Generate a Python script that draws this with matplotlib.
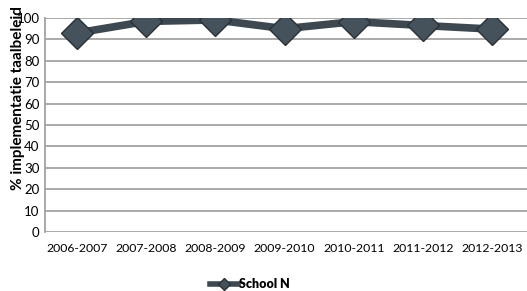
import matplotlib
matplotlib.use("Agg")
import matplotlib.pyplot as plt
from matplotlib.lines import Line2D

categories = ["2006-2007", "2007-2008", "2008-2009", "2009-2010", "2010-2011", "2011-2012", "2012-2013"]
values = [93, 98.4, 99.1, 95, 98.3, 96.5, 94.8]
series_name = "School N"
yticks = [0, 10, 20, 30, 40, 50, 60, 70, 80, 90, 100]

plt.rcParams['font.family'] = ['Lato', 'DejaVu Sans']

fig = plt.figure(figsize=(5.27, 2.91), dpi=100)
ax = fig.add_axes([45/527, 1 - 232/291, (527-45)/527, (232-18)/291])

col = "#3e4850"
x = list(range(len(categories)))
ax.plot(x, values, color=col, lw=5.5, marker="D", ms=16,
        markerfacecolor="#46525b", markeredgecolor="#2a3137", markeredgewidth=1, zorder=3,
        solid_joinstyle="round")

ax.set_ylim(0, 100)
ax.set_xlim(-0.46, len(categories) - 0.5)
ax.set_yticks(yticks)
ax.set_yticklabels([str(v) for v in yticks], fontsize=9.5)
ax.set_xticks(x)
ax.set_xticklabels(categories, fontsize=8.8)
ax.tick_params(axis="both", length=0, pad=4)
ax.tick_params(axis="x", pad=8)
ax.grid(axis="y", color="#a3a3a3", lw=1.3)
ax.set_axisbelow(True)
for s in ["top", "right", "bottom"]:
    ax.spines[s].set_visible(False)
ax.spines["left"].set_color("#a3a3a3")
ax.spines["left"].set_linewidth(1.3)

fig.text(18/527, 1 - 98/291, "% implementatie taalbeleid", rotation=90, fontsize=11,
         fontweight="bold", ha="center", va="center")

handle = Line2D([0], [0], color=col, lw=4, marker="D", ms=6,
                markerfacecolor="#46525b", markeredgecolor="#2a3137")
leg = fig.legend([handle], [series_name], loc="center", bbox_to_anchor=(250/527, 1 - 284/291),
                 frameon=False, prop={"weight": "heavy", "size": 9}, handlelength=2.2,
                 handletextpad=0.1)

fig.savefig("out.png", dpi=100)
